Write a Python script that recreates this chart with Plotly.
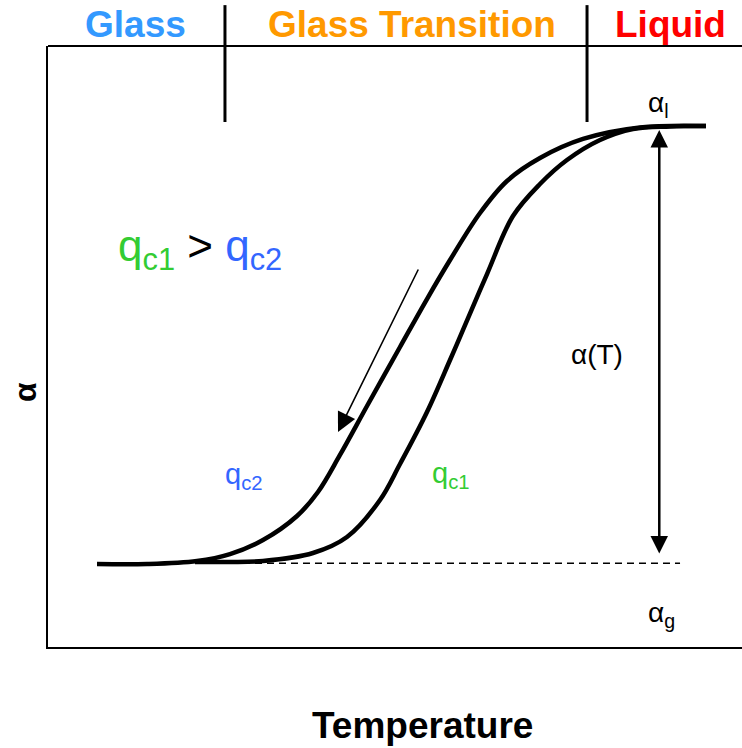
import plotly.graph_objects as go

# ---- data (arbitrary units: temperature 0..100, alpha 0..100) ----
temp_qc2 = [7.06, 14.27, 21.47, 26.22, 30.98, 35.88, 38.90, 42.07, 45.97, 50.72,
            54.61, 57.93, 62.25, 66.14, 70.89, 77.09, 85.30, 94.81]
alpha_qc2 = [13.81, 13.81, 14.31, 15.47, 17.80, 21.80, 25.79, 31.95, 40.10, 49.92,
             57.90, 64.39, 72.21, 77.54, 81.36, 84.53, 86.44, 86.69]

temp_qc1 = [21.18, 26.22, 30.98, 38.18, 43.08, 47.84, 50.72, 54.61, 57.93, 59.80,
            63.26, 67.00, 70.89, 74.78, 79.54, 84.29, 89.63, 94.81]
alpha_qc1 = [14.14, 14.14, 14.31, 15.64, 18.30, 24.46, 30.45, 39.10, 47.75, 52.75,
             62.06, 71.71, 77.04, 81.03, 84.36, 86.19, 86.61, 86.69]

alpha_g_level = 13.93
alpha_g_span = [21.18, 91.07]
range_T = 88.08
range_alpha = [15.31, 86.02]
cool_arrow_T = [53.46, 41.79]
cool_arrow_alpha = [63.06, 35.77]

region_labels = ["Glass", "Glass Transition", "Liquid"]
region_centers = [12.54, 52.52, 89.7]
region_colors = ["#3399FF", "#FF9900", "#FF0000"]
region_bounds = [25.5, 77.67]

GREEN = "#33CC33"
BLUE = "#3366FF"
FONT = "Liberation Sans, Arial, sans-serif"

fig = go.Figure()

for tx, ay in ((temp_qc2, alpha_qc2), (temp_qc1, alpha_qc1)):
    fig.add_trace(go.Scatter(x=tx, y=ay, mode="lines",
                             line=dict(color="black", width=4.5, shape="spline", smoothing=1.0),
                             hoverinfo="skip", showlegend=False))
fig.add_trace(go.Scatter(x=alpha_g_span, y=[alpha_g_level, alpha_g_level], mode="lines",
                         line=dict(color="black", width=1.5, dash="7px,5px"),
                         hoverinfo="skip", showlegend=False))

shapes = [
    dict(type="line", xref="paper", yref="paper", x0=0, x1=1, y0=1, y1=1,
         line=dict(color="black", width=2)),
]
for b in region_bounds:
    shapes.append(dict(type="line", xref="x", yref="paper", x0=b, x1=b,
                       y0=0.8735, y1=1.068, line=dict(color="black", width=3)))

annotations = []
for lab, cx, col in zip(region_labels, region_centers, region_colors):
    annotations.append(dict(x=cx, y=1.036, xref="x", yref="paper", text=lab,
                            showarrow=False, xanchor="center", yanchor="middle",
                            font=dict(family=FONT, size=37, color=col, weight="bold")))

annotations.append(dict(x=range_T, y=range_alpha[1], ax=range_T, ay=range_alpha[0],
                        xref="x", yref="y", axref="x", ayref="y", text="",
                        showarrow=True, arrowhead=2, startarrowhead=2, arrowside="end+start",
                        arrowwidth=2.5, arrowsize=1.4, startarrowsize=1.4,
                        arrowcolor="black", standoff=0, startstandoff=0))
annotations.append(dict(x=cool_arrow_T[1], y=cool_arrow_alpha[1], ax=cool_arrow_T[0],
                        ay=cool_arrow_alpha[0], xref="x", yref="y", axref="x", ayref="y",
                        text="", showarrow=True, arrowhead=2, arrowwidth=1.6, arrowsize=2.4,
                        arrowcolor="black", standoff=0))

texts = [
    (21.97, 66.3, f"<span style='color:{GREEN}'>q<sub>c1</sub></span> &gt; "
                  f"<span style='color:{BLUE}'>q<sub>c2</sub></span>", 44, "black"),
    (28.24, 28.4, "q<sub>c2</sub>", 29, BLUE),
    (58.07, 28.7, "q<sub>c1</sub>", 29, GREEN),
    (79.11, 48.59, "α(T)", 28, "black"),
    (87.9, 90.3, "α<sub>l</sub>", 28, "black"),
    (88.47, 5.4, "α<sub>g</sub>", 28, "black"),
]
for x, y, t, s, c in texts:
    annotations.append(dict(x=x, y=y, xref="x", yref="y", text=t, showarrow=False,
                            xanchor="center", yanchor="middle",
                            font=dict(family=FONT, size=s, color=c)))

annotations.append(dict(x=0.5396, y=-0.131, xref="paper", yref="paper", text="Temperature",
                        showarrow=False, xanchor="center", yanchor="middle",
                        font=dict(family=FONT, size=37, color="black", weight="bold")))
annotations.append(dict(x=-0.0331, y=0.4243, xref="paper", yref="paper", text="α",
                        showarrow=False, xanchor="center", yanchor="middle", textangle=-90,
                        font=dict(family=FONT, size=32, color="black", weight="bold")))

fig.update_layout(
    width=742, height=748,
    margin=dict(l=48, r=0, t=46, b=101),
    paper_bgcolor="white", plot_bgcolor="white",
    shapes=shapes, annotations=annotations,
    xaxis=dict(range=[0, 100], showgrid=False, zeroline=False, showticklabels=False,
               ticks="", showline=True, linecolor="black", linewidth=2, fixedrange=True),
    yaxis=dict(range=[0, 100], showgrid=False, zeroline=False, showticklabels=False,
               ticks="", showline=True, linecolor="black", linewidth=2, fixedrange=True),
    showlegend=False,
)

fig.write_html("out.html", config={"displayModeBar": False})
